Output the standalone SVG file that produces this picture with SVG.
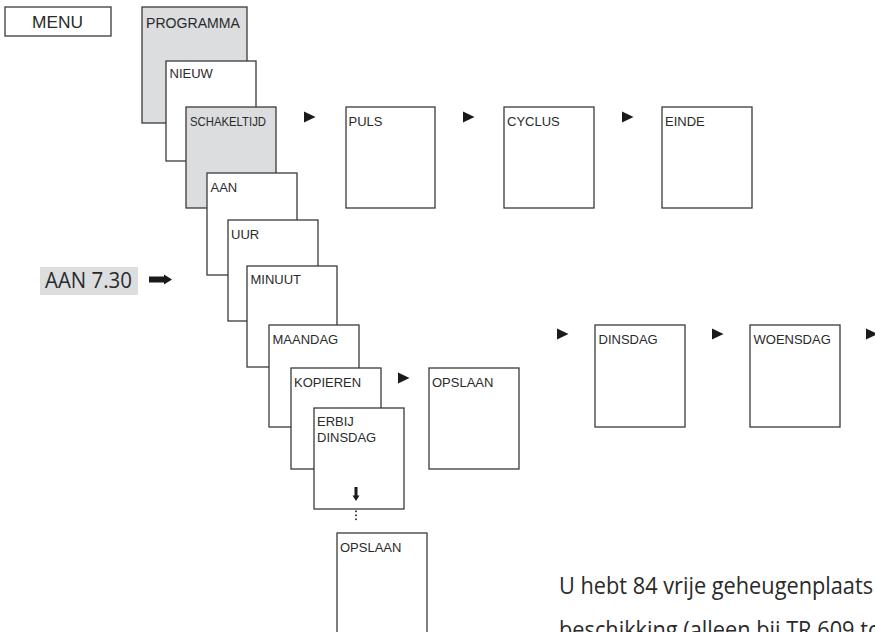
<svg xmlns="http://www.w3.org/2000/svg" width="875" height="632" viewBox="0 0 875 632">
<style>
.box{fill:#ffffff;stroke:#3a3a3a;stroke-width:1.3}
.gray{fill:#dcdddf;stroke:#3a3a3a;stroke-width:1.3}
.lbl{font-family:"Liberation Sans",Arial,sans-serif;font-size:13px;fill:#2a2a2a}
.big{font-family:"Open Sans","Liberation Sans",sans-serif;font-size:23px;fill:#2a2a2a}
.tri{fill:#1a1a1a}
</style>
<defs>
<path id="tri" d="M0,-5.5 L11.5,0 L0,5.5 Z"/>
</defs>
<rect width="875" height="632" fill="#ffffff"/>

<g id="menu"><rect class="box" x="5" y="7" width="106" height="29"/><text class="lbl" x="57.5" y="28" style="font-size:17px" text-anchor="middle" textLength="51" lengthAdjust="spacingAndGlyphs">MENU</text></g>
<g id="programma"><rect class="gray" x="142" y="7" width="105" height="116"/><text class="lbl" x="146" y="28" style="font-size:14px" textLength="94" lengthAdjust="spacingAndGlyphs">PROGRAMMA</text></g>
<g id="nieuw"><rect class="box" x="166" y="61" width="90" height="100"/><text class="lbl" x="169.5" y="78">NIEUW</text></g>
<g id="schakeltijd"><rect class="gray" x="186" y="107" width="90" height="101"/><text class="lbl" x="190" y="126" textLength="76" lengthAdjust="spacingAndGlyphs">SCHAKELTIJD</text></g>
<g id="aan"><rect class="box" x="207" y="173" width="90" height="102"/><text class="lbl" x="210.5" y="192">AAN</text></g>
<g id="uur"><rect class="box" x="228" y="220" width="90" height="101"/><text class="lbl" x="231" y="239">UUR</text></g>
<g id="minuut"><rect class="box" x="247" y="266" width="90" height="101"/><text class="lbl" x="250.5" y="284">MINUUT</text></g>
<g id="maandag"><rect class="box" x="269" y="325" width="90" height="102"/><text class="lbl" x="272.5" y="344">MAANDAG</text></g>
<g id="kopieren"><rect class="box" x="291" y="368" width="90" height="101"/><text class="lbl" x="294" y="387">KOPIEREN</text></g>
<g id="erbij-dinsdag"><rect class="box" x="314" y="408" width="90" height="101"/><text class="lbl" x="317" y="426">ERBIJ</text><text class="lbl" x="317" y="442">DINSDAG</text></g>
<g id="opslaan-1"><rect class="box" x="429" y="368" width="90" height="101"/><text class="lbl" x="432" y="387">OPSLAAN</text></g>
<g id="opslaan-2"><rect class="box" x="337" y="533" width="90" height="108"/><text class="lbl" x="340" y="552">OPSLAAN</text></g>
<g id="puls"><rect class="box" x="346" y="107" width="89" height="101"/><text class="lbl" x="348.5" y="126">PULS</text></g>
<g id="cyclus"><rect class="box" x="504" y="107" width="90" height="101"/><text class="lbl" x="507" y="126">CYCLUS</text></g>
<g id="einde"><rect class="box" x="662" y="107" width="90" height="101"/><text class="lbl" x="665" y="126">EINDE</text></g>
<g id="dinsdag"><rect class="box" x="595" y="325" width="90" height="102"/><text class="lbl" x="598.5" y="344">DINSDAG</text></g>
<g id="woensdag"><rect class="box" x="750" y="325" width="90" height="102"/><text class="lbl" x="753.5" y="344">WOENSDAG</text></g>

<g id="aan-730"><rect x="40" y="267" width="98" height="28" fill="#dcdddf"/><text class="big" x="45" y="288" style="font-size:22px" textLength="87" lengthAdjust="spacingAndGlyphs">AAN 7.30</text></g>

<g id="connectors">
<use href="#tri" class="tri" x="304" y="117"/>
<use href="#tri" class="tri" x="463" y="117"/>
<use href="#tri" class="tri" x="622" y="117"/>
<use href="#tri" class="tri" x="398" y="378"/>
<use href="#tri" class="tri" x="557" y="334"/>
<use href="#tri" class="tri" x="712" y="334"/>
<use href="#tri" class="tri" x="866" y="334"/>
<path d="M149,276.5 H164 V274.5 L172,279.5 L164,284.5 V282.5 H149 Z" fill="#1a1a1a"/>
<path d="M354.5,487 H357.5 V495.5 H359.5 L356,501 L352.5,495.5 H354.5 Z" fill="#1a1a1a"/>
<rect x="355.2" y="510.5" width="1.6" height="1.6" fill="#1a1a1a"/>
<rect x="355.2" y="514.5" width="1.6" height="1.6" fill="#1a1a1a"/>
<rect x="355.2" y="518.5" width="1.6" height="1.6" fill="#1a1a1a"/>
</g>

<g id="note">
<text class="big" x="559" y="594" textLength="314" lengthAdjust="spacingAndGlyphs">U hebt 84 vrije geheugenplaats</text>
<text class="big" x="559" y="638" textLength="322" lengthAdjust="spacingAndGlyphs">beschikking (alleen bij TR 609 to</text>
</g>
</svg>
